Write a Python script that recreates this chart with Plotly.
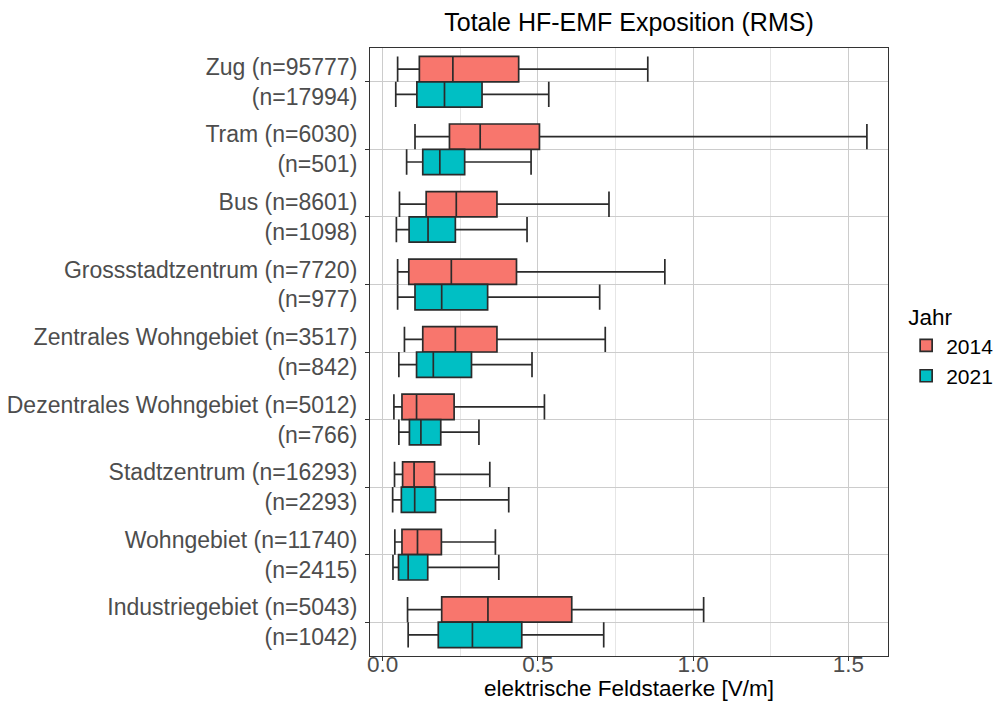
import plotly.graph_objects as go

# ---- data ----
categories = ["Zug", "Tram", "Bus", "Grossstadtzentrum", "Zentrales Wohngebiet",
              "Dezentrales Wohngebiet", "Stadtzentrum", "Wohngebiet", "Industriegebiet"]
n_2014 = [95777, 6030, 8601, 7720, 3517, 5012, 16293, 11740, 5043]
n_2021 = [17994, 501, 1098, 977, 842, 766, 2293, 2415, 1042]

low_2014 = [0.048, 0.104, 0.054, 0.048, 0.070, 0.036, 0.038, 0.039, 0.080]
q1_2014 = [0.118, 0.215, 0.140, 0.084, 0.129, 0.062, 0.064, 0.062, 0.190]
med_2014 = [0.226, 0.314, 0.237, 0.221, 0.234, 0.109, 0.101, 0.112, 0.339]
q3_2014 = [0.438, 0.505, 0.368, 0.431, 0.368, 0.230, 0.167, 0.189, 0.609]
up_2014 = [0.854, 1.560, 0.729, 0.909, 0.717, 0.521, 0.345, 0.363, 1.034]

low_2021 = [0.042, 0.077, 0.044, 0.048, 0.052, 0.052, 0.032, 0.033, 0.082]
q1_2021 = [0.110, 0.129, 0.085, 0.104, 0.109, 0.086, 0.060, 0.051, 0.179]
med_2021 = [0.199, 0.184, 0.146, 0.190, 0.163, 0.123, 0.103, 0.082, 0.289]
q3_2021 = [0.320, 0.264, 0.234, 0.338, 0.286, 0.187, 0.170, 0.145, 0.448]
up_2021 = [0.535, 0.478, 0.465, 0.699, 0.481, 0.310, 0.406, 0.374, 0.712]

x_ticks = [0.0, 0.5, 1.0, 1.5]
x_ticklabels = ["0.0", "0.5", "1.0", "1.5"]

labels = [f"{c} (n={a})<br>(n={b})" for c, a, b in zip(categories, n_2014, n_2021)]

FONT = "Liberation Sans, Arial, sans-serif"
TXT = 22.5

fig = go.Figure()
fig.add_trace(go.Box(
    orientation="h", y=labels, name="2014",
    q1=q1_2014, median=med_2014, q3=q3_2014,
    lowerfence=low_2014, upperfence=up_2014,
    fillcolor="#F8766D", line=dict(color="#2b2b2b", width=1.7),
    whiskerwidth=1, boxpoints=False,
))
fig.add_trace(go.Box(
    orientation="h", y=labels, name="2021",
    q1=q1_2021, median=med_2021, q3=q3_2021,
    lowerfence=low_2021, upperfence=up_2021,
    fillcolor="#00BFC4", line=dict(color="#2b2b2b", width=1.7),
    whiskerwidth=1, boxpoints=False,
))

fig.add_annotation(text="elektrische Feldstaerke [V/m]", xref="paper", yref="paper",
                   x=0.5, y=-(680 - 648) / 608, xanchor="center", yanchor="middle",
                   showarrow=False, font=dict(size=TXT, color="black", family=FONT))

fig.update_layout(
    width=1003, height=706,
    margin=dict(l=362, r=112, t=40, b=58),
    paper_bgcolor="white", plot_bgcolor="white",
    boxmode="group", boxgap=0.25, boxgroupgap=0,
    font=dict(family=FONT, size=TXT, color="#4D4D4D"),
    title=dict(text="Totale HF-EMF Exposition (RMS)", x=0.5, xref="paper",
               y=1 - 5 / 706, yref="container", yanchor="top",
               font=dict(size=25, color="black", family=FONT)),
    legend=dict(title=dict(text="Jahr", font=dict(size=TXT, color="black")),
                x=1.035, xanchor="left", y=0.592, yanchor="top",
                font=dict(size=21, color="black"), tracegroupgap=0,
                bgcolor="rgba(0,0,0,0)"),
    xaxis=dict(range=[-0.041, 1.628], tickvals=x_ticks, ticktext=x_ticklabels,
               automargin=False,
               showgrid=True, gridcolor="#cccccc", gridwidth=1.2,
               minor=dict(dtick=0.25, tick0=0.25, showgrid=True, gridcolor="#e6e6e6", gridwidth=1),
               zeroline=False, showline=True, linecolor="#333333", linewidth=1.2, mirror=True,
               ticks="outside", ticklen=4, tickcolor="#333333",
               ticklabelstandoff=-16,
               tickfont=dict(size=TXT, color="#4D4D4D")),
    yaxis=dict(type="category", categoryorder="array", categoryarray=labels,
               autorange="reversed", automargin=False,
               showgrid=True, gridcolor="#cccccc", gridwidth=1.2,
               zeroline=False, showline=True, linecolor="#333333", linewidth=1.2, mirror=True,
               ticks="outside", ticklen=4, tickcolor="#333333",
               ticklabelstandoff=3,
               tickfont=dict(size=23, color="#4D4D4D")),
)

fig.write_html("out.html")
